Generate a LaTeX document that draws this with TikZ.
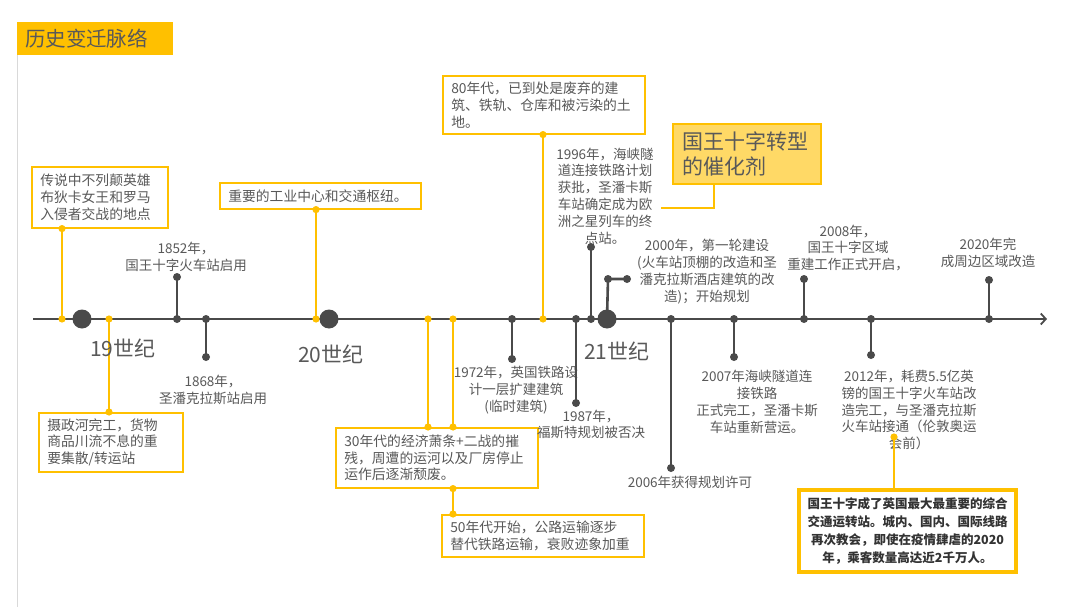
\documentclass[tikz,border=0pt]{standalone}
\usepackage{fontspec}
\setmainfont{Noto Sans CJK SC}
\usepackage{tikz}
\usetikzlibrary{arrows.meta,positioning}
\definecolor{gold}{HTML}{FFC000}
\definecolor{goldbg}{HTML}{FFD966}
\definecolor{ink}{HTML}{595959}
\definecolor{darkink}{HTML}{333333}
\definecolor{axisgray}{HTML}{4A4A4A}
\definecolor{railgray}{HTML}{D9D9D9}
\tikzset{
  titlebar/.style={fill=gold,anchor=north west,outer sep=0pt,
                   text width=140pt,minimum height=33pt,inner xsep=8pt,
                   align=left,font=\fontsize{20.5}{24}\selectfont,text=ink},
  note/.style={draw=gold,fill=white,line width=1.6pt,anchor=north west,
               align=left,inner xsep=8.5pt,inner ysep=0pt,
               font=\fontsize{13.8}{16.8}\selectfont,text=ink},
  catalyst/.style={draw=gold,fill=goldbg,line width=1.6pt,anchor=north west,
                   align=left,inner xsep=10pt,inner ysep=0pt,
                   text width=128pt,minimum height=60pt,
                   font=\fontsize{21}{25}\selectfont,text=ink},
  summary/.style={draw=gold,fill=white,line width=4pt,anchor=north west,
                  align=center,inner xsep=8pt,inner ysep=0pt,
                  text width=201pt,minimum height=82pt,
                  font=\fontsize{12.5}{17.7}\selectfont\bfseries,text=darkink},
  event/.style={align=center,inner sep=0pt,
                font=\fontsize{13.5}{16.8}\selectfont,text=ink},
  century/.style={anchor=west,inner sep=0pt,
                  font=\fontsize{21}{24}\selectfont,text=ink},
  bigdot/.style={circle,fill=axisgray,minimum size=19pt,inner sep=0pt},
  goldstem/.style={draw=gold,line width=2.2pt},
  graystem/.style={draw=axisgray,line width=2.6pt},
  axis/.style={draw=axisgray,line width=2.6pt,
               -{Straight Barb[length=5pt,width=11pt,line width=1.8pt]}}
}
\begin{document}
\begin{tikzpicture}[x=1pt,y=-1pt]
  \useasboundingbox[fill=white] (0,0) rectangle (1080,613);

  % title and side rail
  \node[titlebar] (title) at (17,22) {历史变迁脉络};
  \coordinate (railend) at (17,607);
  \draw[railgray,line width=1pt] (title.south west) -- (railend);

  % points on the time axis
  \coordinate (axisL) at (33,319);
  \coordinate (axisR) at (1047,319);
  \coordinate (e1) at (62,319);
  \coordinate (e2) at (109,319);
  \coordinate (e1852) at (177,319);
  \coordinate (e1868) at (206,319);
  \coordinate (e3) at (316,319);
  \coordinate (e4a) at (428,319);
  \coordinate (e4b) at (453,319);
  \coordinate (e1972) at (512,319);
  \coordinate (e5) at (543,319);
  \coordinate (e1987) at (576,319);
  \coordinate (e1996) at (591,319);
  \coordinate (e2006) at (671,319);
  \coordinate (e2007) at (734,319);
  \coordinate (e2008) at (804,319);
  \coordinate (e2012) at (871,319);
  \coordinate (e2020) at (989,319);

  % free ends of the grey stems
  \coordinate (k1852) at (177,277);
  \coordinate (k1868) at (206,357);
  \coordinate (k1972) at (512,359);
  \coordinate (k1987) at (576,403);
  \coordinate (k1996) at (591,247);
  \coordinate (k2000a) at (608,279);
  \coordinate (k2000b) at (627,279);
  \coordinate (k2006) at (671,468);
  \coordinate (k2007) at (734,357);
  \coordinate (k2008) at (804,279);
  \coordinate (k2012) at (871,355);
  \coordinate (k2020) at (989,280);
  \coordinate (k2012b) at (894,437);

  % yellow notes
  \node[note,text width=119pt,minimum height=61pt] (legend) at (31,166)
    {传说中不列颠英雄\\布狄卡女王和罗马\\入侵者交战的地点};
  \node[note,text width=127pt,minimum height=59pt] (canal) at (38,412)
    {摄政河完工，货物\\商品川流不息的重\\要集散/转运站};
  \node[note,text width=184pt,minimum height=26pt] (hub) at (219,182)
    {重要的工业中心和交通枢纽。};
  \node[note,text width=185pt,minimum height=60pt] (decline) at (335,427)
    {30年代的经济萧条+二战的摧\\残，周遭的运河以及厂房停止\\运作后逐渐颓废。};
  \node[note,text width=185pt,minimum height=42pt] (road) at (441,514)
    {50年代开始，公路运输逐步\\替代铁路运输，衰败迹象加重};
  \node[note,text width=185pt,minimum height=58pt] (waste) at (442,75)
    {80年代，已到处是废弃的建\\筑、铁轨、仓库和被污染的土\\地。};
  \node[catalyst] (cat) at (672,123) {国王十字转型\\的催化剂};

  % grey event labels
  \node[event] (l1852) at (186,256.5) {1852年，\\国王十字火车站启用};
  \node[event] (l1868) at (213,390) {1868年，\\圣潘克拉斯站启用};
  \node[event] (l1972) at (516,390) {1972年，英国铁路设\\计一层扩建建筑\\(临时建筑)};
  \node[event] (l1987) at (591,424.5) {1987年，\\福斯特规划被否决};
  \node[event] (l1996) at (605,196)
    {1996年，海峡隧\\道连接铁路计划\\获批，圣潘卡斯\\车站确定成为欧\\洲之星列车的终\\点站。};
  \node[event] (l2000) at (707,271.5)
    {2000年，第一轮建设\\(火车站顶棚的改造和圣\\潘克拉斯酒店建筑的改\\造)；开始规划};
  \node[event] (l2006) at (690,482) {2006年获得规划许可};
  \node[event] (l2007) at (757,402)
    {2007年海峡隧道连\\接铁路\\正式完工，圣潘卡斯\\车站重新营运。};
  \node[event] (l2008) at (848,248) {2008年，\\国王十字区域\\重建工作正式开启，};
  \node[event] (l2012) at (909,410)
    {2012年，耗费5.5亿英\\镑的国王十字火车站改\\造完工，与圣潘克拉斯\\火车站接通（伦敦奥运\\会前）};
  \node[event] (l2020) at (988,253) {2020年完\\成周边区域改造};

  % yellow stems
  \draw[goldstem] (e1) -- (e1 |- legend.south);
  \draw[goldstem] (e2) -- (e2 |- canal.north);
  \draw[goldstem] (e3) -- (e3 |- hub.south);
  \draw[goldstem] (e4a) -- (e4a |- decline.north);
  \draw[goldstem] (e4b) -- (e4b |- decline.north);
  \draw[goldstem] (e4b |- decline.south) -- (e4b |- road.north);
  \draw[goldstem] (e5) -- (e5 |- waste.south);
  \coordinate (catfoot) at (714,208);
  \coordinate (cathook) at (661,208);
  \draw[goldstem] (cat.south -| catfoot) -- (catfoot) -- (cathook);

  % grey stems
  \foreach \e in {1852,1868,1972,1987,1996,2006,2007,2008,2012,2020}
    \draw[graystem] (e\e) -- (k\e);

  % axis and centuries
  \draw[axis] (axisL) -- (axisR);
  \draw[graystem] (607,319) -- (k2000a) -- (k2000b);
  \node[bigdot] (c19) at (82,319) {};
  \node[bigdot] (c20) at (329,319) {};
  \node[bigdot] (c21) at (607,319) {};
  \node[century] (t19) at (90,348) {19世纪};
  \node[century] (t20) at (298,354) {20世纪};
  \node[century] (t21) at (584,351) {21世纪};

  % dots
  \foreach \p in {1852,1868,1972,1987,1996,2006,2007,2008,2012,2020}
    {\fill[axisgray] (e\p) circle (4pt); \fill[axisgray] (k\p) circle (4pt);}
  \fill[axisgray] (k2000a) circle (4pt);
  \fill[axisgray] (k2000b) circle (4pt);
  \foreach \p in {e1,e2,e3,e4a,e4b,e5,
                  e1 |- legend.south,e2 |- canal.north,e3 |- hub.south,
                  e4a |- decline.north,e4b |- decline.north,
                  e4b |- decline.south,e4b |- road.north,e5 |- waste.south}
    \fill[gold] (\p) circle (3.6pt);

  % closing note
  \node[summary] (final) at (797,488)
    {国王十字成了英国最大最重要的综合\\交通运转站。城内、国内、国际线路\\再次教会，即使在疫情肆虐的2020\\年，乘客数量高达近2千万人。};
  \draw[goldstem] (k2012b) -- (k2012b |- final.north);
  \fill[gold] (k2012b) circle (3.6pt);
\end{tikzpicture}
\end{document}
